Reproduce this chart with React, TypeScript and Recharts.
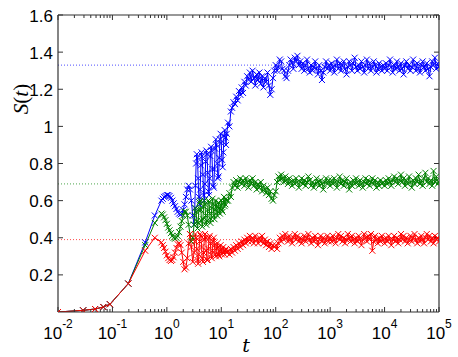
import React from 'react';
import { LineChart, Line, XAxis, YAxis, ReferenceLine } from 'recharts';

// time grid (log spaced)
const T = [
  0.01, 0.029, 0.048, 0.068, 0.09, 0.196, 0.4, 0.6,
  // slow oscillations
  0.794, 0.841, 0.891, 0.944, 1, 1.06, 1.12, 1.19, 1.26, 1.33, 1.41, 1.5, 1.58, 1.68, 1.78, 1.88, 2, 2.11, 2.24, 2.37,
  2.51, 2.66, 2.82, 2.99, 3.16,
  // fast oscillations
  3.255, 3.35, 3.45, 3.548, 3.652, 3.758, 3.868, 3.981, 4.097, 4.217, 4.34, 4.467, 4.597, 4.732, 4.87, 5.012,
  5.158, 5.309, 5.464, 5.623, 5.788, 5.957, 6.131, 6.31, 6.494, 6.683, 6.879, 7.079, 7.286, 7.499, 7.718, 7.943,
  8.175, 8.414, 8.66, 8.913, 9.173, 9.441, 9.716, 10, 10.29, 10.59, 10.9, 11.22, 11.55, 11.89, 12.23, 12.59,
  // rise and plateau
  13.3, 14.1, 15, 15.8, 16.8, 17.8, 18.8, 20, 21.1, 22.4, 23.7, 25.1, 26.6, 28.2, 29.9, 31.6, 33.5, 35.5, 37.6, 39.8,
  42.2, 44.7, 47.3, 50.1, 53.1, 56.2, 59.6, 63.1, 66.8, 70.8, 75, 79.4, 84.1, 89.1, 94.4,
  100, 106, 112, 119, 126, 133, 141, 150, 158, 168, 178, 188, 200, 211, 224, 237, 251, 266, 282, 299,
  316, 335, 355, 376, 398, 422, 447, 473, 501, 531, 562, 596, 631, 668, 708, 750, 794, 841, 891, 944,
  1000, 1060, 1120, 1190, 1260, 1330, 1410, 1500, 1580, 1680, 1780, 1880, 2000, 2110, 2240, 2370, 2510, 2660, 2820, 2990,
  3160, 3350, 3550, 3760, 3980, 4220, 4470, 4730, 5010, 5310, 5620, 5960, 6310, 6680, 7080, 7500, 7940, 8410, 8910, 9440,
  10000, 10600, 11200, 11900, 12600, 13300, 14100, 15000, 15800, 16800, 17800, 18800, 20000, 21100, 22400, 23700, 25100, 26600, 28200, 29900,
  31600, 33500, 35500, 37600, 39800, 42200, 44700, 47300, 50100, 53100, 56200, 59600, 63100, 66800, 70800, 75000, 79400, 84100, 89100, 94400,
  100000,
];

const S_BLUE = [
  0, 0.009, 0.016, 0.027, 0.042, 0.153, 0.375, 0.52,
  0.60, 0.61, 0.62, 0.625, 0.63, 0.63, 0.625, 0.615, 0.60, 0.585, 0.57, 0.555, 0.54, 0.53, 0.525, 0.53, 0.55, 0.58, 0.62, 0.66,
  0.68, 0.66, 0.60, 0.52, 0.47,
  0.56, 0.68, 0.80, 0.85, 0.83, 0.72, 0.62, 0.58, 0.66, 0.79, 0.86, 0.84, 0.74, 0.63, 0.60, 0.69,
  0.81, 0.87, 0.85, 0.75, 0.65, 0.63, 0.72, 0.84, 0.89, 0.87, 0.77, 0.68, 0.67, 0.77, 0.88, 0.93,
  0.90, 0.80, 0.72, 0.73, 0.83, 0.93, 0.96, 0.91, 0.82, 0.78, 0.86, 0.95, 0.98, 0.94, 0.90, 0.96,
  1.02, 1.00, 1.08, 1.10, 1.13, 1.12, 1.16, 1.14, 1.19, 1.17, 1.21, 1.18, 1.24, 1.22, 1.27, 1.25, 1.29, 1.24, 1.30, 1.26,
  1.22, 1.28, 1.25, 1.29, 1.23, 1.27, 1.21, 1.26, 1.24, 1.29, 1.22, 1.17, 1.20, 1.26, 1.30,
  1.33, 1.30, 1.32, 1.36, 1.35, 1.31, 1.30, 1.27, 1.26, 1.30, 1.33, 1.36, 1.34, 1.31, 1.37, 1.35, 1.38, 1.33, 1.35, 1.31,
  1.34, 1.30, 1.33, 1.36, 1.31, 1.29, 1.33, 1.30, 1.32, 1.35, 1.31, 1.28, 1.33, 1.30, 1.25, 1.29, 1.32, 1.35, 1.31, 1.33,
  1.30, 1.34, 1.32, 1.29, 1.33, 1.36, 1.31, 1.34, 1.30, 1.33, 1.35, 1.31, 1.28, 1.32, 1.35, 1.33, 1.30, 1.34, 1.37, 1.32,
  1.30, 1.33, 1.31, 1.35, 1.32, 1.29, 1.33, 1.36, 1.31, 1.34, 1.30, 1.32, 1.35, 1.33, 1.29, 1.31, 1.34, 1.32, 1.30, 1.33,
  1.31, 1.34, 1.30, 1.33, 1.36, 1.32, 1.29, 1.33, 1.31, 1.35, 1.32, 1.30, 1.34, 1.31, 1.28, 1.33, 1.35, 1.31, 1.33, 1.30,
  1.32, 1.36, 1.33, 1.30, 1.34, 1.31, 1.29, 1.33, 1.35, 1.32, 1.30, 1.34, 1.31, 1.27, 1.32, 1.35, 1.33, 1.37, 1.31, 1.34,
  1.32,
];

const S_GREEN = [
  0, 0.009, 0.016, 0.027, 0.042, 0.153, 0.36, 0.48,
  0.53, 0.525, 0.51, 0.495, 0.475, 0.455, 0.44, 0.425, 0.41, 0.40, 0.395, 0.40, 0.41, 0.43, 0.46, 0.49, 0.52, 0.54, 0.54, 0.52,
  0.47, 0.42, 0.38, 0.40, 0.47,
  0.52, 0.56, 0.54, 0.49, 0.45, 0.48, 0.55, 0.59, 0.60, 0.55, 0.49, 0.46, 0.50, 0.57, 0.60, 0.58,
  0.52, 0.47, 0.49, 0.55, 0.60, 0.59, 0.53, 0.48, 0.50, 0.56, 0.61, 0.58, 0.52, 0.50, 0.55, 0.60,
  0.57, 0.52, 0.54, 0.59, 0.56, 0.53, 0.57, 0.60, 0.55, 0.54, 0.59, 0.62, 0.57, 0.58, 0.61, 0.60,
  0.60, 0.64, 0.62, 0.67, 0.70, 0.68, 0.71, 0.67, 0.70, 0.72, 0.69, 0.71, 0.68, 0.72, 0.70, 0.67, 0.71, 0.69, 0.72, 0.68,
  0.70, 0.66, 0.69, 0.67, 0.70, 0.65, 0.68, 0.66, 0.64, 0.67, 0.63, 0.65, 0.61, 0.60, 0.63,
  0.65, 0.70, 0.73, 0.71, 0.74, 0.72, 0.70, 0.73, 0.71, 0.69, 0.72, 0.70, 0.68, 0.71, 0.69, 0.72, 0.70, 0.67, 0.70, 0.72,
  0.69, 0.71, 0.68, 0.70, 0.73, 0.71, 0.68, 0.70, 0.67, 0.69, 0.72, 0.70, 0.68, 0.71, 0.69, 0.66, 0.70, 0.72, 0.69, 0.71,
  0.68, 0.71, 0.69, 0.72, 0.70, 0.67, 0.70, 0.73, 0.69, 0.71, 0.68, 0.70, 0.72, 0.69, 0.66, 0.70, 0.68, 0.71, 0.69, 0.72,
  0.70, 0.68, 0.71, 0.69, 0.67, 0.70, 0.72, 0.69, 0.71, 0.68, 0.70, 0.72, 0.69, 0.71, 0.67, 0.70, 0.68, 0.71, 0.69, 0.70,
  0.68, 0.71, 0.69, 0.72, 0.70, 0.68, 0.71, 0.73, 0.70, 0.72, 0.69, 0.71, 0.74, 0.70, 0.72, 0.68, 0.71, 0.69, 0.73, 0.70,
  0.67, 0.71, 0.69, 0.72, 0.70, 0.74, 0.69, 0.71, 0.68, 0.72, 0.75, 0.70, 0.72, 0.69, 0.71, 0.68, 0.76, 0.70, 0.73, 0.69,
  0.70,
];

const S_RED = [
  0, 0.009, 0.016, 0.027, 0.042, 0.153, 0.33, 0.40,
  0.375, 0.36, 0.345, 0.325, 0.305, 0.29, 0.28, 0.275, 0.28, 0.295, 0.32, 0.345, 0.365, 0.37, 0.36, 0.32, 0.27, 0.23, 0.24, 0.29,
  0.37, 0.42, 0.35, 0.27, 0.32,
  0.38, 0.42, 0.40, 0.34, 0.28, 0.26, 0.31, 0.38, 0.42, 0.41, 0.35, 0.29, 0.27, 0.32, 0.39, 0.42,
  0.40, 0.33, 0.28, 0.28, 0.34, 0.40, 0.41, 0.37, 0.31, 0.29, 0.33, 0.38, 0.40, 0.36, 0.31, 0.30,
  0.34, 0.37, 0.35, 0.31, 0.30, 0.33, 0.36, 0.34, 0.31, 0.32, 0.35, 0.33, 0.31, 0.33, 0.34, 0.32,
  0.33, 0.31, 0.34, 0.32, 0.35, 0.33, 0.36, 0.34, 0.37, 0.35, 0.38, 0.36, 0.39, 0.37, 0.40, 0.38, 0.41, 0.38, 0.40, 0.37,
  0.41, 0.39, 0.37, 0.40, 0.38, 0.41, 0.37, 0.39, 0.36, 0.38, 0.35, 0.37, 0.34, 0.36, 0.35,
  0.36, 0.34, 0.37, 0.40, 0.38, 0.41, 0.39, 0.42, 0.40, 0.38, 0.41, 0.39, 0.37, 0.40, 0.42, 0.39, 0.41, 0.38, 0.40, 0.37,
  0.39, 0.41, 0.38, 0.40, 0.42, 0.39, 0.37, 0.40, 0.38, 0.41, 0.39, 0.36, 0.39, 0.41, 0.38, 0.40, 0.37, 0.39, 0.41, 0.38,
  0.40, 0.38, 0.41, 0.39, 0.37, 0.40, 0.42, 0.39, 0.41, 0.38, 0.40, 0.37, 0.39, 0.42, 0.40, 0.38, 0.41, 0.39, 0.37, 0.40,
  0.38, 0.41, 0.39, 0.36, 0.39, 0.42, 0.40, 0.38, 0.41, 0.39, 0.42, 0.33, 0.38, 0.41, 0.39, 0.37, 0.40, 0.38, 0.41, 0.39,
  0.37, 0.40, 0.38, 0.41, 0.39, 0.36, 0.39, 0.41, 0.38, 0.40, 0.37, 0.39, 0.42, 0.39, 0.41, 0.38, 0.40, 0.37, 0.39, 0.41,
  0.38, 0.40, 0.42, 0.39, 0.37, 0.40, 0.38, 0.41, 0.39, 0.37, 0.40, 0.42, 0.39, 0.41, 0.38, 0.40, 0.37, 0.41, 0.39, 0.40,
  0.38,
];

// dotted asymptote levels
const LEVEL_T = [0.01, 100000];
const LEVEL_BLUE = 1.33;
const LEVEL_GREEN = 0.69;
const LEVEL_RED = 0.39;

const X_MIN = 0.01;
const X_MAX = 100000;
const Y_MIN = 0;
const Y_MAX = 1.6;

const X_MAJOR = [0.01, 0.1, 1, 10, 100, 1000, 10000, 100000];
const X_EXP = ['-2', '-1', '0', '1', '2', '3', '4', '5'];
const Y_TICKS = [0.2, 0.4, 0.6, 0.8, 1, 1.2, 1.4, 1.6];
const Y_LABELS = ['0.2', '0.4', '0.6', '0.8', '1', '1.2', '1.4', '1.6'];

const X_MINOR = X_MAJOR.slice(0, -1).flatMap(m => [2, 3, 4, 5, 6, 7, 8, 9].map(k => m * k));

const rows = T.map((t, i) => ({ t, blue: S_BLUE[i], green: S_GREEN[i], red: S_RED[i] }));
const levelRows = (v: number) => LEVEL_T.map(t => ({ t, s: v }));

const AX = '#333';
const FONT = '"Liberation Sans", Arial, sans-serif';
const W = 458;
const H = 357;
const M = { top: 15, right: 19, bottom: 0, left: 0 };
const X_AXIS_H = 45;
const Y_AXIS_W = 58;
const PLOT_H = H - M.top - X_AXIS_H;
const PLOT_W = W - M.right - Y_AXIS_W;

// inward tick lengths, turned into data units for reference segments
const MAJ_PX = 5;
const MIN_PX = 3;
const dy = (px: number) => (px / PLOT_H) * (Y_MAX - Y_MIN);
const fx = (px: number) => Math.pow(X_MAX / X_MIN, px / PLOT_W);

const cross = (color: string) => (props: any) => {
  const { cx, cy, index } = props;
  if (cx == null || cy == null) return <g key={`n${index}`} />;
  const r = 3;
  return (
    <path
      key={`c${index}`}
      d={`M${cx - r},${cy - r}L${cx + r},${cy + r}M${cx - r},${cy + r}L${cx + r},${cy - r}`}
      stroke={color}
      strokeWidth={1}
      fill="none"
    />
  );
};

const XTick = (props: any) => {
  const { x, payload } = props;
  const i = X_MAJOR.indexOf(payload.value);
  return (
    <text x={x} y={M.top + PLOT_H + 27} textAnchor="middle" fontFamily={FONT} fontSize={17} fill="#000">
      <tspan>10</tspan>
      <tspan dy={-11} fontSize={12}>{X_EXP[i]}</tspan>
    </text>
  );
};

const YTick = (props: any) => {
  const { y, payload } = props;
  const i = Y_TICKS.indexOf(payload.value);
  return (
    <text x={Y_AXIS_W - 5} y={y} dy={6.5} textAnchor="end" fontFamily={FONT} fontSize={17} fill="#000">
      {Y_LABELS[i]}
    </text>
  );
};

const seg = (key: string, a: { x: number; y: number }, b: { x: number; y: number }) => (
  <ReferenceLine key={key} segment={[a, b]} stroke={AX} strokeWidth={1} ifOverflow="visible" />
);

export default function App() {
  const ticks: React.ReactNode[] = [];
  X_MAJOR.forEach(v => {
    ticks.push(seg(`xb${v}`, { x: v, y: Y_MIN }, { x: v, y: Y_MIN + dy(MAJ_PX) }));
    ticks.push(seg(`xt${v}`, { x: v, y: Y_MAX }, { x: v, y: Y_MAX - dy(MAJ_PX) }));
  });
  X_MINOR.forEach(v => {
    ticks.push(seg(`mb${v}`, { x: v, y: Y_MIN }, { x: v, y: Y_MIN + dy(MIN_PX) }));
    ticks.push(seg(`mt${v}`, { x: v, y: Y_MAX }, { x: v, y: Y_MAX - dy(MIN_PX) }));
  });
  Y_TICKS.forEach(v => {
    ticks.push(seg(`yl${v}`, { x: X_MIN, y: v }, { x: X_MIN * fx(MAJ_PX), y: v }));
    ticks.push(seg(`yr${v}`, { x: X_MAX, y: v }, { x: X_MAX / fx(MAJ_PX), y: v }));
  });

  return (
    <div style={{ position: 'absolute', left: 0, top: 0, width: W, height: H, background: '#fff' }}>
      <LineChart width={W} height={H} data={rows} margin={M}>
        <XAxis dataKey="t" type="number" scale="log" domain={[X_MIN, X_MAX]} allowDataOverflow
          ticks={X_MAJOR} interval={0} height={X_AXIS_H} axisLine={false} tickLine={false} tick={<XTick />} />
        <YAxis type="number" domain={[Y_MIN, Y_MAX]} allowDataOverflow ticks={Y_TICKS} interval={0}
          width={Y_AXIS_W} axisLine={false} tickLine={false} tick={<YTick />} />

        <Line data={levelRows(LEVEL_BLUE)} dataKey="s" stroke="#0000ff" strokeOpacity={0.7}
          strokeDasharray="1 2" strokeWidth={1} dot={false} activeDot={false} isAnimationActive={false} />
        <Line data={levelRows(LEVEL_GREEN)} dataKey="s" stroke="#008000" strokeOpacity={0.7}
          strokeDasharray="1 2" strokeWidth={1} dot={false} activeDot={false} isAnimationActive={false} />
        <Line data={levelRows(LEVEL_RED)} dataKey="s" stroke="#ff0000" strokeOpacity={0.7}
          strokeDasharray="1 2" strokeWidth={1} dot={false} activeDot={false} isAnimationActive={false} />

        <Line dataKey="blue" type="linear" stroke="#0000ff" strokeWidth={1}
          dot={cross('#0000ff')} activeDot={false} isAnimationActive={false} />
        <Line dataKey="green" type="linear" stroke="#008000" strokeWidth={1}
          dot={cross('#008000')} activeDot={false} isAnimationActive={false} />
        <Line dataKey="red" type="linear" stroke="#ff0000" strokeWidth={1}
          dot={cross('#ff0000')} activeDot={false} isAnimationActive={false} />

        <ReferenceLine y={Y_MIN} stroke={AX} strokeWidth={1.2} ifOverflow="visible" />
        <ReferenceLine y={Y_MAX} stroke={AX} strokeWidth={1.2} ifOverflow="visible" />
        <ReferenceLine x={X_MIN} stroke={AX} strokeWidth={1.2} ifOverflow="visible" />
        <ReferenceLine x={X_MAX} stroke={AX} strokeWidth={1.2} ifOverflow="visible" />
        {ticks}
      </LineChart>
      <svg width={W} height={H} style={{ position: 'absolute', left: 0, top: 0, pointerEvents: 'none' }}>
        <text x={246} y={352} textAnchor="middle" fontFamily='"DejaVu Serif", "Liberation Serif", serif'
          fontStyle="italic" fontSize={19} fill="#000">t</text>
        <text transform="translate(28,99) rotate(-90)" textAnchor="middle"
          fontFamily='"Liberation Serif", "DejaVu Serif", serif' fontSize={21} fill="#000">
          <tspan fontStyle="italic">S</tspan>
          <tspan>(</tspan>
          <tspan fontStyle="italic">t</tspan>
          <tspan>)</tspan>
        </text>
      </svg>
    </div>
  );
}
